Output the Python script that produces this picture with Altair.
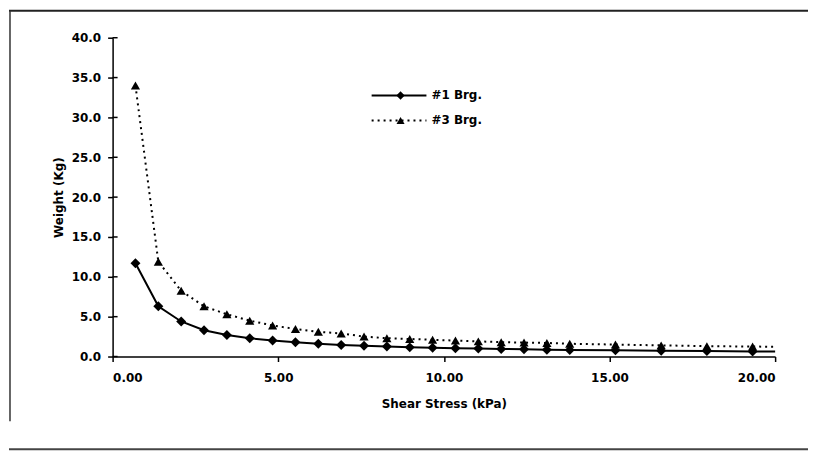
import altair as alt
import pandas as pd

# ---- data ----
shear_stress = [0.69, 1.38, 2.07, 2.76, 3.45, 4.14, 4.83, 5.52, 6.21, 6.90,
                7.59, 8.28, 8.97, 9.66, 10.35, 11.04, 11.73, 12.42, 13.11, 13.80,
                15.18, 16.56, 17.94, 19.32, 20.70]
weight_brg1 = [11.7, 6.3, 4.4, 3.3, 2.7, 2.3, 2.0, 1.8, 1.6, 1.45,
               1.35, 1.25, 1.15, 1.1, 1.05, 1.0, 0.95, 0.9, 0.85, 0.82,
               0.78, 0.72, 0.68, 0.64, 0.6]
weight_brg3 = [34.0, 11.9, 8.25, 6.3, 5.3, 4.5, 3.9, 3.45, 3.1, 2.9,
               2.5, 2.3, 2.2, 2.1, 2.0, 1.9, 1.8, 1.75, 1.7, 1.6,
               1.5, 1.4, 1.3, 1.25, 1.2]
series_names = ["#1 Brg.", "#3 Brg."]
x_ticks = [0, 5, 10, 15, 20]
y_ticks = [0, 5, 10, 15, 20, 25, 30, 35, 40]

df1 = pd.DataFrame({"x": shear_stress, "y": weight_brg1})
df3 = pd.DataFrame({"x": shear_stress, "y": weight_brg3})
dfy = pd.DataFrame({"y": y_ticks})
one = pd.DataFrame({"a": [0]})

FONT = "DejaVu Sans"
FS = 12
W, H = 665, 320

xs = alt.Scale(domain=[0, 20], nice=False)
ys = alt.Scale(domain=[0, 40], nice=False)

xenc = alt.X("x:Q", scale=xs,
             axis=alt.Axis(title="Shear Stress (kPa)", values=x_ticks, format=".2f",
                           grid=False, labelPadding=11, titlePadding=15,
                           labelOverlap=False))
yenc = alt.Y("y:Q", scale=ys,
             axis=alt.Axis(title="Weight (Kg)", values=y_ticks, format=".1f",
                           grid=False, labelPadding=7, titlePadding=6,
                           labelOverlap=False))

line1 = alt.Chart(df1).mark_line(color="black", strokeWidth=2, clip=True).encode(x=xenc, y=yenc)
pts1 = alt.Chart(df1).mark_point(shape="diamond", filled=True, color="black",
                                 size=100, opacity=1, clip=True).encode(x=xenc, y=yenc)
line3 = alt.Chart(df3).mark_line(color="black", strokeWidth=2, strokeDash=[2, 4],
                                 clip=True).encode(x=xenc, y=yenc)
pts3 = alt.Chart(df3).mark_point(shape="triangle-up", filled=True, color="black",
                                 size=85, opacity=1, clip=True).encode(x=xenc, y=yenc)

# inner half of the "cross" tick marks on the value axis
inner_ticks = alt.Chart(dfy).mark_rule(color="black", strokeWidth=1.5).encode(
    x=alt.value(0), x2=alt.value(5), y=yenc)

# ---- legend (drawn by hand, inside the plot) ----
leg_x1, leg_x2, leg_mx, leg_tx = 260, 315, 289, 320
leg_y = [58, 83]
leg = []
leg.append(alt.Chart(one).mark_rule(color="black", strokeWidth=2).encode(
    x=alt.value(leg_x1), x2=alt.value(leg_x2), y=alt.value(leg_y[0])))
leg.append(alt.Chart(one).mark_point(shape="diamond", filled=True, color="black", size=70,
                                     opacity=1).encode(x=alt.value(leg_mx), y=alt.value(leg_y[0])))
leg.append(alt.Chart(one).mark_rule(color="black", strokeWidth=2, strokeDash=[2, 4]).encode(
    x=alt.value(leg_x1), x2=alt.value(leg_x2), y=alt.value(leg_y[1])))
leg.append(alt.Chart(one).mark_point(shape="triangle-up", filled=True, color="black", size=65,
                                     opacity=1).encode(x=alt.value(leg_mx), y=alt.value(leg_y[1])))
for i, name in enumerate(series_names):
    leg.append(alt.Chart(one).mark_text(text=name, align="left", baseline="middle",
                                        font=FONT, fontWeight="bold", fontSize=FS,
                                        color="black").encode(
        x=alt.value(leg_tx), y=alt.value(leg_y[i])))

# ---- chart-area border (scanned frame) ----
border = [
    alt.Chart(one).mark_rule(color="#222", strokeWidth=2).encode(
        x=alt.value(-104), x2=alt.value(700), y=alt.value(-27)),
    alt.Chart(one).mark_rule(color="#333", strokeWidth=1.5).encode(
        x=alt.value(-103), y=alt.value(-27), y2=alt.value(385)),
    alt.Chart(one).mark_rule(color="#444", strokeWidth=2).encode(
        x=alt.value(-104), x2=alt.value(700), y=alt.value(413)),
]

chart = alt.layer(line1, pts1, line3, pts3, inner_ticks, *leg, *border).properties(
    width=W, height=H,
    autosize=alt.AutoSizeParams(type="none"),
    padding={"left": 105, "top": 29, "right": 33, "bottom": 95},
    background="white",
).configure_view(stroke=None).configure_axis(
    domainColor="black", domainWidth=1.5, tickColor="black", tickWidth=1.5, tickSize=5,
    labelFont=FONT, labelFontWeight="bold", labelFontSize=FS, labelColor="black",
    titleFont=FONT, titleFontWeight="bold", titleFontSize=FS, titleColor="black",
)

chart.save("out.html", embed_options={"renderer": "svg", "actions": False})
